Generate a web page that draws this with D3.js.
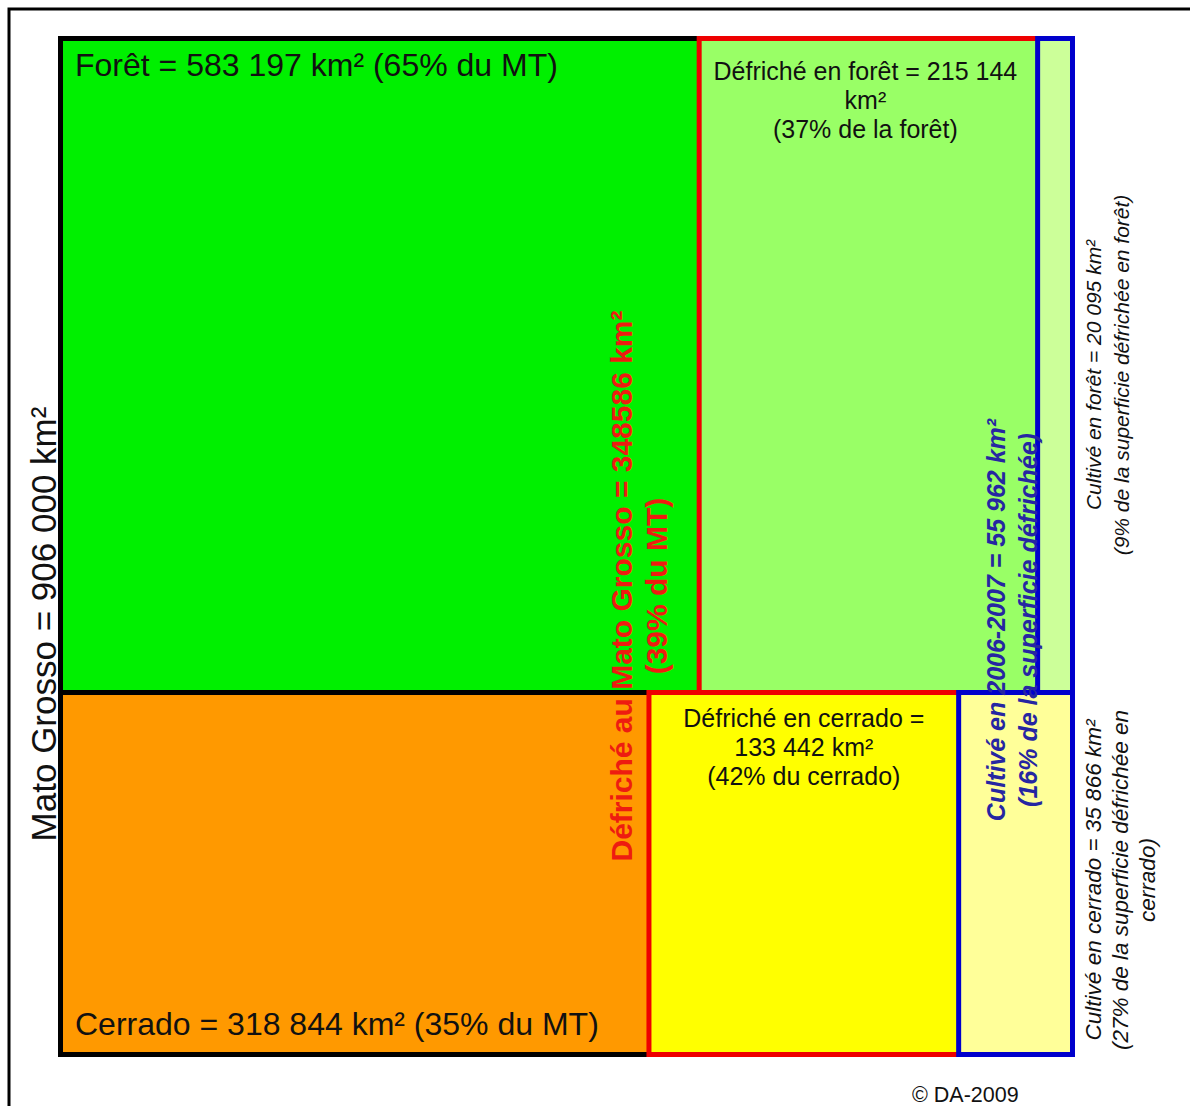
<!DOCTYPE html>
<html>
<head>
<meta charset="utf-8">
<script src="https://cdn.jsdelivr.net/npm/d3@7"></script>
<style>
  body { margin: 0; background: #fff; }
  text { font-family: "Liberation Sans", Arial, sans-serif; }
</style>
</head>
<body>
<script>
// Superficies du Mato Grosso (km²)
const totalKm2 = 906000;
const regions = ["Forêt", "Cerrado"];
const areaKm2 = [583197, 318844];
const clearedKm2 = [215144, 133442];
const cultivatedKm2 = [20095, 35866];

const areaLabels = [
    "Forêt = 583 197 km² (65% du MT)",
    "Cerrado = 318 844 km² (35% du MT)"
];
const clearedLabels = [
    ["Défriché en forêt = 215 144", "km²", "(37% de la forêt)"],
    ["Défriché en cerrado =", "133 442 km²", "(42% du cerrado)"]
];
const cultivatedLabels = [
    ["Cultivé en forêt = 20 095 km²", "(9% de la superficie défrichée en forêt)"],
    ["Cultivé en cerrado = 35 866 km²", "(27% de la superficie défrichée en", "cerrado)"]
];
const totalLabel = "Mato Grosso = 906 000 km²";
const clearedTotalLabel = ["Défriché au Mato Grosso = 348586 km²", "(39% du MT)"];
const cultivatedTotalLabel = ["Cultivé en 2006-2007 = 55 962 km²", "(16% de la superficie défrichée)"];

const width = 1190, height = 1106;

const svg = d3.select("body").append("svg")
    .attr("width", width)
    .attr("height", height);

// cadre extérieur
svg.append("path")
    .attr("d", `M9,${height + 5} V9 H${width + 5}`)
    .attr("fill", "none")
    .attr("stroke", "#000")
    .attr("stroke-width", 3);

// échelles : hauteur proportionnelle à la superficie, largeur = fraction de la région
const y = d3.scaleLinear().domain([0, totalKm2]).range([38.5, 1054.5]);
const x = d3.scaleLinear().domain([0, 1]).range([60.5, 1072.5]);

const fills = {
    area: ["#00f000", "#ff9900"],
    cleared: ["#99ff66", "#ffff00"],
    cultivated: ["#ccff99", "#ffff99"]
};
const strokes = { area: "#000", cleared: "#ee0000", cultivated: "#0000cc" };

// bandes : forêt en haut, cerrado en dessous
const bands = regions.map((r, i) => ({
    y0: i === 0 ? 0 : areaKm2[0],
    y1: i === 0 ? areaKm2[0] : totalKm2
}));

const cells = [];
["area", "cleared", "cultivated"].forEach(level => {
    regions.forEach((r, i) => {
        let frac = 1;
        if (level === "cleared") frac = clearedKm2[i] / areaKm2[i];
        if (level === "cultivated") frac = cultivatedKm2[i] / areaKm2[i];
        cells.push({ level, i, x0: 1 - frac, x1: 1, y0: bands[i].y0, y1: bands[i].y1 });
    });
});

svg.append("g")
    .selectAll("rect")
    .data(cells)
    .join("rect")
    .attr("x", d => x(d.x0))
    .attr("y", d => y(d.y0))
    .attr("width", d => x(d.x1) - x(d.x0))
    .attr("height", d => y(d.y1) - y(d.y0))
    .attr("fill", d => fills[d.level][d.i])
    .attr("stroke", d => strokes[d.level])
    .attr("stroke-width", 5);

// libellés des régions
svg.append("text")
    .attr("x", 75).attr("y", 76)
    .attr("font-size", 32).attr("fill", "#111")
    .text(areaLabels[0]);
svg.append("text")
    .attr("x", 75).attr("y", 1035)
    .attr("font-size", 32).attr("fill", "#111")
    .text(areaLabels[1]);

// libellés des zones défrichées (horizontaux, centrés)
const clearedTop = [80, 727];
clearedLabels.forEach((lines, i) => {
    const cx = (x(1 - clearedKm2[i] / areaKm2[i]) + x(1 - cultivatedKm2[i] / areaKm2[i])) / 2;
    const t = svg.append("text")
        .attr("text-anchor", "middle")
        .attr("font-size", 25)
        .attr("fill", "#111");
    lines.forEach((l, k) => {
        t.append("tspan").attr("x", i === 0 ? cx - 3 : cx).attr("y", clearedTop[i] + k * 29).text(l);
    });
});

// texte vertical
function vtext(cy, lines, baseX, step, opts) {
    const g = svg.append("g").attr("transform", `translate(0,${cy}) rotate(-90)`);
    const t = g.append("text")
        .attr("text-anchor", "middle")
        .attr("font-size", opts.size)
        .attr("fill", opts.color)
        .attr("font-weight", opts.weight || "normal")
        .attr("font-style", opts.style || "normal");
    lines.forEach((l, k) => {
        t.append("tspan").attr("x", 0).attr("y", baseX + k * step).text(l);
    });
}

vtext(624, [totalLabel], 56, 0, { size: 35, color: "#111" });
vtext(586, clearedTotalLabel, 632, 35, { size: 30, color: "#ee1c10", weight: "bold" });
vtext(620, cultivatedTotalLabel, 1005, 32, { size: 25, color: "#2626a2", weight: "bold", style: "italic" });
vtext(375, cultivatedLabels[0], 1101, 28, { size: 21, color: "#111", style: "italic" });
vtext(880, cultivatedLabels[1], 1101, 27, { size: 22.5, color: "#111", style: "italic" });

svg.append("text")
    .attr("x", 912).attr("y", 1102)
    .attr("font-size", 21.5).attr("fill", "#111")
    .text("© DA-2009");
</script>
</body>
</html>
